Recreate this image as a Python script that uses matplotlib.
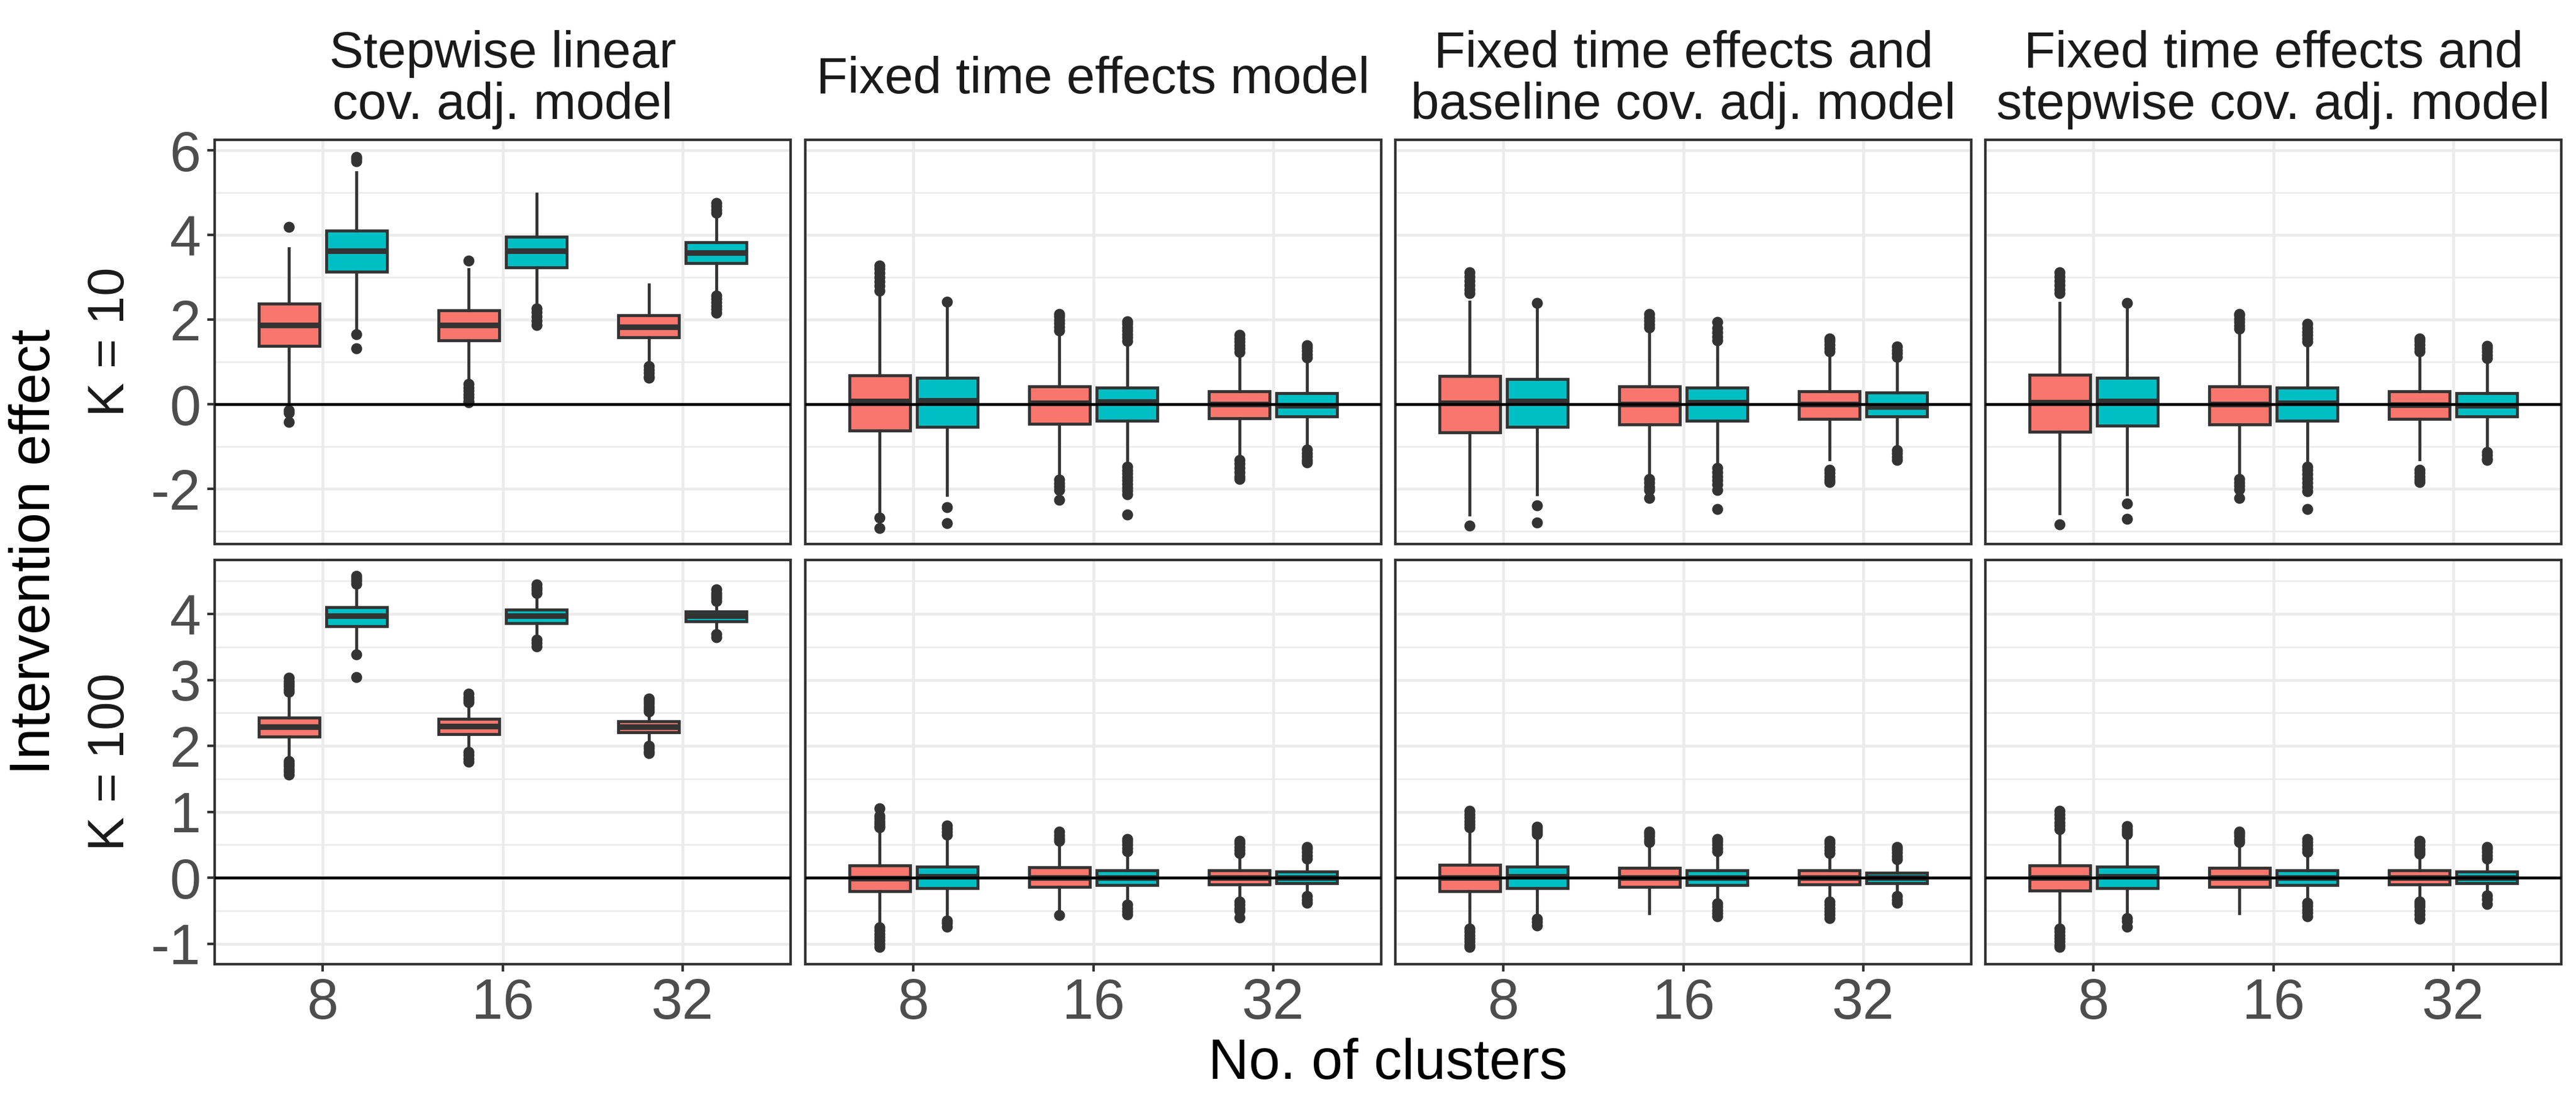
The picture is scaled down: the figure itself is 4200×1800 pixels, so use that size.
import matplotlib
matplotlib.use('Agg')
import matplotlib.pyplot as plt
from matplotlib.ticker import MultipleLocator

plt.rcParams['font.family'] = ['Liberation Sans', 'DejaVu Sans']
plt.rcParams['axes.unicode_minus'] = False

# panel titles (columns) and row labels
models = ['Stepwise linear\ncov. adj. model',
          'Fixed time effects model',
          'Fixed time effects and\nbaseline cov. adj. model',
          'Fixed time effects and\nstepwise cov. adj. model']
k_labels = ['K = 10', 'K = 100']
clusters = ['8', '16', '32']

# box stats per cluster size (8, 16, 32):
# [lower whisker, q1, median, q3, upper whisker]; *_out = outliers
# group a = red boxes, group b = cyan boxes

# ---- K = 10 ----
k10_step_a = [[0.02, 1.375, 1.87, 2.375, 3.69], [0.52, 1.51, 1.87, 2.22, 3.19], [0.94, 1.58, 1.83, 2.10, 2.83]]
k10_step_a_out = [[4.19, -0.14, -0.20, -0.42],
                  [3.39, 0.48, 0.40, 0.32, 0.24, 0.16, 0.08, 0.05],
                  [0.90, 0.82, 0.74, 0.66, 0.62]]
k10_step_b = [[1.73, 3.13, 3.63, 4.11, 5.48], [2.32, 3.24, 3.63, 3.96, 4.97], [2.61, 3.33, 3.58, 3.83, 4.48]]
k10_step_b_out = [[5.75, 5.80, 5.85, 1.65, 1.33],
                  [2.27, 2.18, 2.08, 1.98, 1.87],
                  [4.52, 4.60, 4.68, 4.76, 2.57, 2.49, 2.41, 2.33, 2.25, 2.17]]

k10_fixed_a = [[-2.60, -0.62, 0.07, 0.68, 2.57], [-1.73, -0.46, 0.03, 0.43, 1.69], [-1.27, -0.33, 0.01, 0.31, 1.19]]
k10_fixed_a_out = [[2.69, 2.80, 2.90, 3.00, 3.10, 3.20, 3.28, -2.67, -2.92],
                   [1.75, 1.83, 1.91, 1.99, 2.07, 2.13, -1.78, -1.86, -1.94, -2.03, -2.25],
                   [1.24, 1.32, 1.40, 1.48, 1.56, 1.64, -1.31, -1.40, -1.50, -1.60, -1.70, -1.77]]
k10_fixed_b = [[-2.14, -0.53, 0.09, 0.63, 2.32], [-1.43, -0.38, 0.06, 0.39, 1.44], [-1.02, -0.29, -0.03, 0.27, 1.05]]
k10_fixed_b_out = [[2.43, -2.43, -2.81],
                   [1.50, 1.58, 1.66, 1.74, 1.82, 1.90, 1.96, -1.48, -1.56, -1.64, -1.72, -1.80, -1.88, -1.96, -2.04, -2.12, -2.60],
                   [1.10, 1.18, 1.26, 1.34, 1.40, -1.07, -1.15, -1.23, -1.31, -1.37]]

k10_base_a = [[-2.60, -0.66, 0.04, 0.67, 2.42], [-1.73, -0.47, 0.00, 0.42, 1.77], [-1.30, -0.34, 0.00, 0.31, 1.22]]
k10_base_a_out = [[2.62, 2.72, 2.82, 2.92, 3.02, 3.12, -2.86],
                  [1.81, 1.89, 1.97, 2.05, 2.13, -1.77, -1.85, -1.95, -2.03, -2.21],
                  [1.25, 1.33, 1.41, 1.49, 1.55, -1.54, -1.62, -1.70, -1.78, -1.83]]
k10_base_b = [[-2.12, -0.53, 0.08, 0.60, 2.29], [-1.41, -0.38, 0.05, 0.39, 1.48], [-1.05, -0.29, -0.05, 0.28, 1.06]]
k10_base_b_out = [[2.40, -2.38, -2.79],
                  [1.51, 1.60, 1.70, 1.80, 1.94, -1.50, -1.60, -1.70, -1.80, -1.90, -2.03, -2.48],
                  [1.12, 1.20, 1.28, 1.36, -1.08, -1.16, -1.24, -1.31]]

k10_stepfix_a = [[-2.58, -0.65, 0.05, 0.70, 2.39], [-1.73, -0.47, 0.00, 0.43, 1.74], [-1.30, -0.34, -0.01, 0.31, 1.22]]
k10_stepfix_a_out = [[2.62, 2.72, 2.82, 2.92, 3.02, 3.12, -2.84],
                     [1.78, 1.86, 1.94, 2.02, 2.10, 2.13, -1.77, -1.85, -1.93, -2.01, -2.22],
                     [1.25, 1.33, 1.41, 1.49, 1.55, -1.54, -1.62, -1.70, -1.78, -1.83]]
k10_stepfix_b = [[-2.12, -0.51, 0.08, 0.62, 2.30], [-1.41, -0.38, 0.04, 0.39, 1.45], [-1.05, -0.29, -0.03, 0.27, 1.05]]
k10_stepfix_b_out = [[2.39, -2.35, -2.71],
                     [1.48, 1.56, 1.64, 1.72, 1.80, 1.90, -1.47, -1.55, -1.65, -1.75, -1.85, -1.95, -2.06, -2.47],
                     [1.09, 1.17, 1.25, 1.32, 1.38, -1.12, -1.20, -1.28, -1.31]]

# ---- K = 100 ----
k100_step_a = [[1.80, 2.14, 2.29, 2.43, 2.78], [1.94, 2.18, 2.30, 2.41, 2.63], [2.03, 2.21, 2.29, 2.37, 2.50]]
k100_step_a_out = [[2.82, 2.86, 2.90, 2.94, 2.98, 3.03, 1.77, 1.73, 1.69, 1.65, 1.61, 1.56],
                   [2.66, 2.70, 2.74, 2.79, 1.91, 1.86, 1.81, 1.76],
                   [2.52, 2.56, 2.60, 2.64, 2.68, 2.72, 2.00, 1.96, 1.92, 1.89]]
k100_step_b = [[3.47, 3.82, 3.97, 4.10, 4.43], [3.65, 3.86, 3.97, 4.07, 4.30], [3.74, 3.89, 3.97, 4.04, 4.17]]
k100_step_b_out = [[4.46, 4.50, 4.54, 4.58, 3.39, 3.04],
                   [4.32, 4.36, 4.40, 4.45, 3.61, 3.56, 3.51],
                   [4.20, 4.24, 4.28, 4.32, 4.37, 3.69, 3.65]]

k100_fixed_a = [[-0.72, -0.20, -0.01, 0.19, 0.73], [-0.52, -0.14, 0.00, 0.16, 0.53], [-0.34, -0.10, 0.00, 0.11, 0.34]]
k100_fixed_a_out = [[1.05, 0.94, 0.90, 0.86, 0.82, 0.78, 0.76, -0.75, -0.80, -0.85, -0.90, -0.95, -1.00, -1.05],
                    [0.56, 0.60, 0.64, 0.70, -0.57],
                    [0.37, 0.42, 0.47, 0.52, 0.56, -0.36, -0.41, -0.46, -0.50, -0.60]]
k100_fixed_b = [[-0.61, -0.16, 0.02, 0.17, 0.62], [-0.38, -0.11, 0.00, 0.11, 0.37], [-0.26, -0.08, 0.00, 0.09, 0.27]]
k100_fixed_b_out = [[0.65, 0.70, 0.75, 0.79, -0.65, -0.69, -0.74],
                    [0.40, 0.45, 0.50, 0.55, 0.59, -0.41, -0.46, -0.51, -0.56],
                    [0.29, 0.34, 0.39, 0.44, 0.47, -0.28, -0.33, -0.38]]

k100_base_a = [[-0.74, -0.20, 0.00, 0.20, 0.73], [-0.54, -0.14, 0.00, 0.15, 0.51], [-0.34, -0.10, 0.00, 0.11, 0.34]]
k100_base_a_out = [[0.76, 0.81, 0.86, 0.91, 0.96, 1.02, -0.77, -0.82, -0.87, -0.92, -0.97, -1.02, -1.05],
                   [0.54, 0.58, 0.63, 0.67, 0.70],
                   [0.37, 0.42, 0.47, 0.52, 0.56, -0.36, -0.41, -0.46, -0.51, -0.56, -0.61]]
k100_base_b = [[-0.60, -0.16, 0.02, 0.17, 0.64], [-0.37, -0.11, 0.00, 0.11, 0.37], [-0.26, -0.08, 0.00, 0.08, 0.25]]
k100_base_b_out = [[0.66, 0.70, 0.74, 0.77, -0.62, -0.67, -0.72],
                   [0.40, 0.45, 0.50, 0.55, 0.59, -0.39, -0.44, -0.49, -0.54, -0.58],
                   [0.28, 0.33, 0.38, 0.43, 0.47, -0.28, -0.33, -0.38]]

k100_stepfix_a = [[-0.74, -0.19, 0.00, 0.19, 0.71], [-0.54, -0.14, 0.00, 0.15, 0.51], [-0.34, -0.10, 0.00, 0.11, 0.34]]
k100_stepfix_a_out = [[0.74, 0.79, 0.84, 0.90, 0.96, 1.02, -0.77, -0.82, -0.87, -0.92, -0.97, -1.02, -1.05],
                      [0.54, 0.58, 0.63, 0.67, 0.70],
                      [0.36, 0.40, 0.44, 0.49, 0.54, 0.56, -0.36, -0.40, -0.44, -0.50, -0.56, -0.62]]
k100_stepfix_b = [[-0.58, -0.16, 0.02, 0.17, 0.64], [-0.37, -0.11, 0.00, 0.11, 0.37], [-0.26, -0.08, 0.00, 0.09, 0.27]]
k100_stepfix_b_out = [[0.66, 0.70, 0.74, 0.78, -0.61, -0.66, -0.74],
                      [0.39, 0.44, 0.49, 0.54, 0.59, -0.38, -0.43, -0.48, -0.53, -0.58],
                      [0.29, 0.34, 0.39, 0.44, 0.47, -0.27, -0.32, -0.40]]

RED = '#F8766D'
CYAN = '#00BFC4'
EDGE = '#333333'
GRID = '#EBEBEB'


def draw_group(ax, stats, outliers, color, shift):
    boxes = []
    for s, o in zip(stats, outliers):
        boxes.append(dict(whislo=s[0], q1=s[1], med=s[2], q3=s[3], whishi=s[4], fliers=o))
    ax.bxp(boxes, positions=[i + 1 + shift for i in range(len(boxes))],
           widths=0.3375, patch_artist=True, showcaps=False, manage_ticks=False,
           boxprops=dict(facecolor=color, edgecolor=EDGE, linewidth=1.15),
           medianprops=dict(color=EDGE, linewidth=2.2, solid_capstyle='butt'),
           whiskerprops=dict(color=EDGE, linewidth=1.15),
           flierprops=dict(marker='o', markerfacecolor=EDGE, markeredgecolor=EDGE,
                           markersize=3.9, markeredgewidth=0.4))


def draw_panel(ax, row, col, group_a, group_b):
    ax.set_axisbelow(True)
    draw_group(ax, group_a[0], group_a[1], RED, -0.1875)
    draw_group(ax, group_b[0], group_b[1], CYAN, 0.1875)
    ax.axhline(0, color='black', linewidth=1.1, zorder=5)

    ax.set_xlim(0.4, 3.6)
    ax.set_xticks([1, 2, 3])
    ax.set_xticklabels(clusters)
    if row == 0:
        ax.set_ylim(-3.30, 6.25)
        ax.yaxis.set_major_locator(MultipleLocator(2))
        ax.yaxis.set_minor_locator(MultipleLocator(1))
    else:
        ax.set_ylim(-1.31, 4.82)
        ax.yaxis.set_major_locator(MultipleLocator(1))
        ax.yaxis.set_minor_locator(MultipleLocator(0.5))

    ax.grid(which='major', color=GRID, linewidth=1.1)
    ax.grid(which='minor', axis='y', color=GRID, linewidth=0.6)
    for sp in ax.spines.values():
        sp.set_color(EDGE)
        sp.set_linewidth(1.0)

    ax.tick_params(which='major', direction='out', length=2.9, width=1.0, color=EDGE,
                   labelsize=22, labelcolor='#4D4D4D', pad=2.5)
    ax.tick_params(which='minor', length=0)
    if col > 0:
        ax.tick_params(axis='y', left=False, labelleft=False)
    if row == 0:
        ax.tick_params(axis='x', bottom=False, labelbottom=False)


def main():
    fig = plt.figure(figsize=(14, 6), dpi=300)
    W, H = 4200.0, 1800.0

    col_left = [350, 1313, 2275, 3237]
    col_width = 939
    row_top = [228, 913]
    row_height = 659

    panels = [
        [(k10_step_a, k10_step_a_out), (k10_step_b, k10_step_b_out)],
        [(k10_fixed_a, k10_fixed_a_out), (k10_fixed_b, k10_fixed_b_out)],
        [(k10_base_a, k10_base_a_out), (k10_base_b, k10_base_b_out)],
        [(k10_stepfix_a, k10_stepfix_a_out), (k10_stepfix_b, k10_stepfix_b_out)],
        [(k100_step_a, k100_step_a_out), (k100_step_b, k100_step_b_out)],
        [(k100_fixed_a, k100_fixed_a_out), (k100_fixed_b, k100_fixed_b_out)],
        [(k100_base_a, k100_base_a_out), (k100_base_b, k100_base_b_out)],
        [(k100_stepfix_a, k100_stepfix_a_out), (k100_stepfix_b, k100_stepfix_b_out)],
    ]

    for row in range(2):
        for col in range(4):
            rect = [col_left[col] / W, 1 - (row_top[row] + row_height) / H,
                    col_width / W, row_height / H]
            ax = fig.add_axes(rect)
            group_a, group_b = panels[row * 4 + col]
            draw_panel(ax, row, col, group_a, group_b)

    # column strip titles
    for col, title in enumerate(models):
        x = (col_left[col] + col_width / 2) / W
        fig.text(x, 1 - 130 / H, title, ha='center', va='center', fontsize=20,
                 linespacing=1.1, color='#1A1A1A')

    # row strip labels on the left
    for row, lab in enumerate(k_labels):
        y = 1 - (row_top[row] + row_height / 2) / H
        fig.text(180 / W, y, lab, rotation=90, ha='center', va='center',
                 fontsize=20, color='#1A1A1A')

    fig.text(57 / W, 1 - 900 / H, 'Intervention effect', rotation=90,
             ha='center', va='center', fontsize=22, color='black')
    fig.text((350 + 4176) / 2 / W, 1 - 1759 / H, 'No. of clusters',
             ha='center', va='baseline', fontsize=22, color='black')

    fig.savefig('out.png', dpi=300, facecolor='white')


if __name__ == '__main__':
    main()
